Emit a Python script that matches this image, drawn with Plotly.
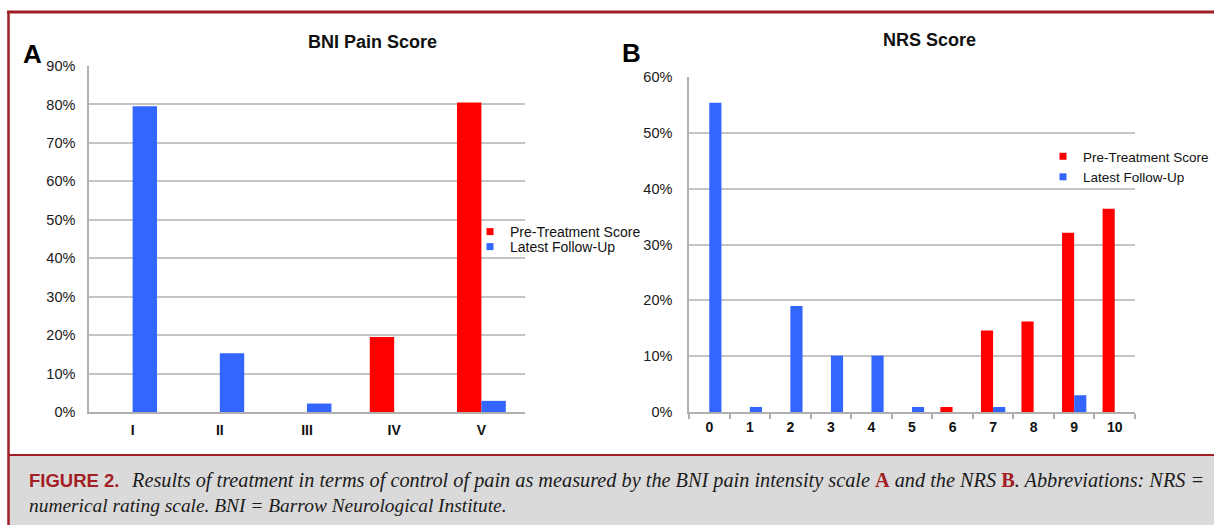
import plotly.graph_objects as go

W, H = 1214, 525

# ---------------- data ----------------
bni_categories = ["I", "II", "III", "IV", "V"]
bni_pre = [0, 0, 0, 19.5, 80.5]
bni_follow = [79.5, 15.3, 2.2, 0, 2.9]
bni_ticks = [0, 10, 20, 30, 40, 50, 60, 70, 80, 90]
bni_tick_labels = ["0%", "10%", "20%", "30%", "40%", "50%", "60%", "70%", "80%", "90%"]

nrs_categories = ["0", "1", "2", "3", "4", "5", "6", "7", "8", "9", "10"]
nrs_pre = [0, 0, 0, 0, 0, 0, 0.9, 14.6, 16.2, 32.1, 36.4]
nrs_follow = [55.4, 0.9, 19.0, 10.1, 10.1, 0.9, 0, 0.9, 0, 3.0, 0]
nrs_ticks = [0, 10, 20, 30, 40, 50, 60]
nrs_tick_labels = ["0%", "10%", "20%", "30%", "40%", "50%", "60%"]

series_names = ["Pre-Treatment Score", "Latest Follow-Up"]

# ---------------- styles ----------------
RED = "#ff0000"
BLUE = "#3366ff"
GRID = "#c4c4c4"
AXIS = "#b0b0b0"
FRAME = "#a31f26"
SANS = "Liberation Sans, Arial, sans-serif"
SERIF = "Liberation Serif, Times New Roman, serif"


def px(x):
    return x / W


def py(y):
    return 1 - y / H


fig = go.Figure()

# Panel A bars
wa = 0.28
fig.add_trace(go.Bar(x=bni_categories, y=bni_pre, xaxis="x", yaxis="y",
                     marker=dict(color=RED, line=dict(width=0)),
                     width=wa, offset=-wa, showlegend=False, name=series_names[0]))
fig.add_trace(go.Bar(x=bni_categories, y=bni_follow, xaxis="x", yaxis="y",
                     marker=dict(color=BLUE, line=dict(width=0)),
                     width=wa, offset=0, showlegend=False, name=series_names[1]))
# Panel B bars
wb = 0.3
fig.add_trace(go.Bar(x=nrs_categories, y=nrs_pre, xaxis="x2", yaxis="y2",
                     marker=dict(color=RED, line=dict(width=0)),
                     width=wb, offset=-wb, showlegend=False, name=series_names[0]))
fig.add_trace(go.Bar(x=nrs_categories, y=nrs_follow, xaxis="x2", yaxis="y2",
                     marker=dict(color=BLUE, line=dict(width=0)),
                     width=wb, offset=0, showlegend=False, name=series_names[1]))

# legend entries (small square markers)
legend_slots = [("legend", "x", "y", 0), ("legend3", "x", "y", 1),
                ("legend2", "x2", "y2", 0), ("legend2", "x2", "y2", 1)]
colors = [RED, BLUE]
for leg, xa, ya, i in legend_slots:
    fig.add_trace(go.Scatter(x=[None], y=[None], xaxis=xa, yaxis=ya, mode="markers",
                             marker=dict(symbol="square", size=7, color=colors[i]),
                             name=series_names[i], legend=leg, showlegend=True))

axis_common = dict(showline=True, linecolor=AXIS, linewidth=1.5, zeroline=False,
                   automargin=False)

leg_common = dict(xanchor="left", yanchor="top", bgcolor="rgba(0,0,0,0)",
                  itemwidth=30, tracegroupgap=0)

fig.update_layout(
    width=W, height=H,
    margin=dict(l=0, r=0, t=0, b=0, pad=0, autoexpand=False),
    paper_bgcolor="white", plot_bgcolor="white",
    barmode="overlay",
    font=dict(family=SANS, size=14, color="#1a1a1a"),
    xaxis=dict(domain=[px(89), px(525)], anchor="y", type="category",
               categoryorder="array", categoryarray=bni_categories,
               range=[-0.5, 4.5], showgrid=False, ticks="",
               tickfont=dict(size=14, weight="bold", color="#111"),
               ticklabelstandoff=4, **axis_common),
    yaxis=dict(domain=[py(412), py(66)], anchor="x", range=[0, 90],
               tickmode="array", tickvals=bni_ticks, ticktext=bni_tick_labels,
               showgrid=True, gridcolor=GRID, gridwidth=1.5, ticks="",
               tickfont=dict(size=14.5, color="#1a1a1a"),
               ticklabelstandoff=9, **axis_common),
    xaxis2=dict(domain=[px(689), px(1135)], anchor="y2", type="category",
                categoryorder="array", categoryarray=nrs_categories,
                range=[-0.5, 10.5], showgrid=False, ticks="outside",
                tickson="boundaries", ticklen=5, tickcolor=AXIS, tickwidth=1.5,
                tickfont=dict(size=14, weight="bold", color="#111"),
                ticklabelstandoff=1, **axis_common),
    yaxis2=dict(domain=[py(412), py(77)], anchor="x2", range=[0, 60],
                tickmode="array", tickvals=nrs_ticks, ticktext=nrs_tick_labels,
                showgrid=True, gridcolor=GRID, gridwidth=1.5, ticks="",
                tickfont=dict(size=14.5, color="#1a1a1a"),
                ticklabelstandoff=12, **axis_common),
    legend=dict(x=px(470), y=py(216), font=dict(size=14, color="#111"), **leg_common),
    legend3=dict(x=px(470), y=py(231), font=dict(size=14, color="#111"), **leg_common),
    legend2=dict(x=px(1043), y=py(141), font=dict(size=13.5, color="#111"), **leg_common),
)

annotations = [
    dict(text="<b>BNI Pain Score</b>", x=px(372), y=py(42), font=dict(size=18, color="#111")),
    dict(text="<b>NRS Score</b>", x=px(929), y=py(40), font=dict(size=18, color="#111")),
    dict(text="<b>A</b>", x=px(32), y=py(54), font=dict(size=26, color="#000")),
    dict(text="<b>B</b>", x=px(631), y=py(53), font=dict(size=26, color="#000")),
]
for a in annotations:
    a.update(xref="paper", yref="paper", showarrow=False, xanchor="center", yanchor="middle")

RA = "<span style='font-style:normal;font-weight:bold;color:%s'>A</span>" % FRAME
RB = "<span style='font-style:normal;font-weight:bold;color:%s'>B</span>" % FRAME
caption1 = ("Results of treatment in terms of control of pain as measured by the BNI pain "
            "intensity scale " + RA + " and the NRS " + RB + ". Abbreviations: NRS =")
caption2 = "numerical rating scale. BNI = Barrow Neurological Institute."

cap = [
    dict(text="<b>FIGURE 2.</b>", x=px(27), y=py(480), xanchor="left", yanchor="middle",
         font=dict(family=SANS, size=18.5, color=FRAME)),
    dict(text=caption1, x=px(129), y=py(480), xanchor="left", yanchor="middle",
         font=dict(family=SERIF, size=20.3, color="#1a1a1a", style="italic")),
    dict(text=caption2, x=px(27), y=py(505), xanchor="left", yanchor="middle",
         font=dict(family=SERIF, size=19.4, color="#1a1a1a", style="italic")),
]
for a in cap:
    a.update(xref="paper", yref="paper", showarrow=False)

fig.update_layout(annotations=annotations + cap)

fig.update_layout(shapes=[
    dict(type="rect", xref="paper", yref="paper", x0=px(9), x1=1, y0=0, y1=py(455),
         fillcolor="#dadada", line=dict(width=0), layer="below"),
    dict(type="line", xref="paper", yref="paper", x0=px(8), x1=1, y0=py(455), y1=py(455),
         line=dict(color=FRAME, width=2)),
    dict(type="line", xref="paper", yref="paper", x0=px(7), x1=1, y0=py(12), y1=py(12),
         line=dict(color=FRAME, width=3)),
    dict(type="line", xref="paper", yref="paper", x0=px(8.5), x1=px(8.5), y0=0, y1=py(11),
         line=dict(color=FRAME, width=2.5)),
])

# remove the browser's default page margin so the figure sits at the window's corner
fig.write_html("out.html",
               config={"displayModeBar": False},
               post_script="document.body.style.margin='0';document.body.style.overflow='hidden';")
